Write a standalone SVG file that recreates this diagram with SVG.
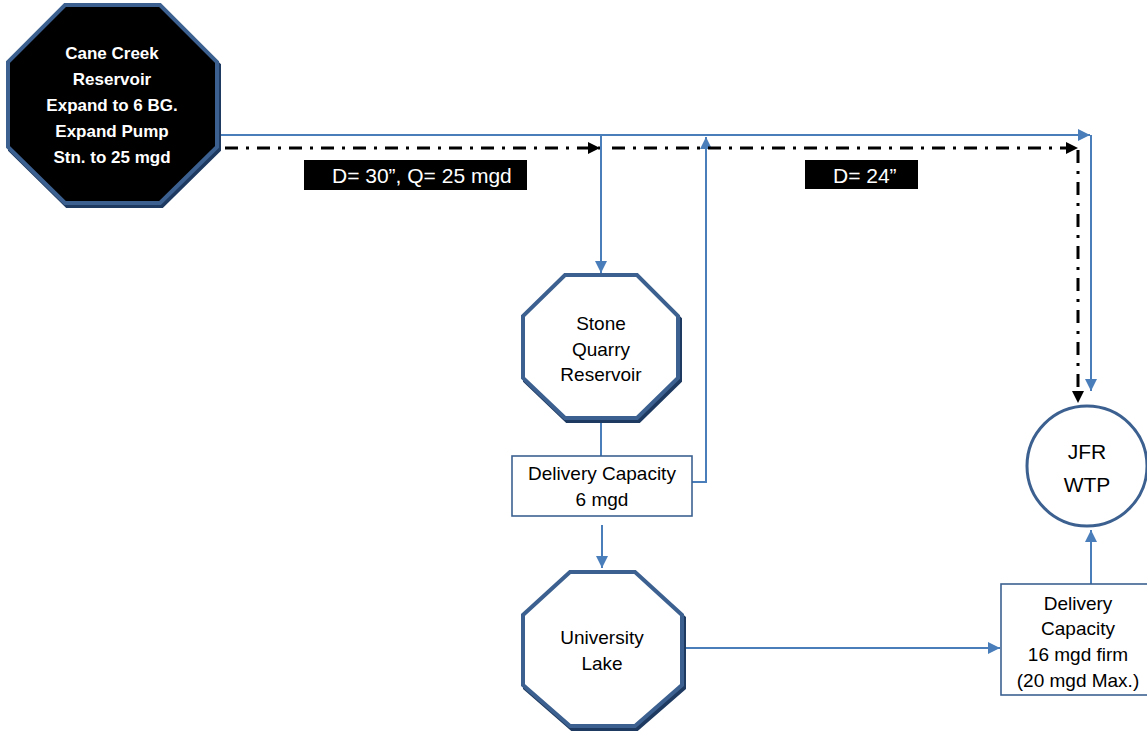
<svg xmlns="http://www.w3.org/2000/svg" width="1147" height="732" viewBox="0 0 1147 732">
<defs>
<style>
.oct{fill:#fff;stroke:#3c6190;stroke-width:4;stroke-linejoin:miter}
.octs{fill:#1f3a60;stroke:#1f3a60;stroke-width:4}
.blk{fill:#000}
.box{fill:#fff;stroke:#3c6190;stroke-width:1.6}
.t{font-family:"Liberation Sans",Arial,sans-serif;font-size:19px;fill:#000;text-anchor:middle}
.tb{font-family:"Liberation Sans",Arial,sans-serif;font-size:17px;font-weight:bold;fill:#fff;text-anchor:middle}
.tl{font-family:"Liberation Sans",Arial,sans-serif;font-size:21px;fill:#fff}
.bl{fill:none;stroke:#4a7ebb;stroke-width:2}
.dd{fill:none;stroke:#000;stroke-width:3;stroke-dasharray:13 8 3 8}
</style>
<marker id="ab" markerUnits="userSpaceOnUse" markerWidth="14" markerHeight="12" refX="12" refY="6" orient="auto">
<path d="M0,0 L12,6 L0,12 Z" fill="#4a7ebb"/>
</marker>
<marker id="ak" markerUnits="userSpaceOnUse" markerWidth="14" markerHeight="12" refX="12" refY="6" orient="auto">
<path d="M0,0 L12,6 L0,12 Z" fill="#000"/>
</marker>
</defs>
<rect width="1147" height="732" fill="#fff"/>

<g id="connectors">
<path class="bl" d="M203,135 H1090" marker-end="url(#ab)"/>
<path class="bl" d="M1091,135 V391" marker-end="url(#ab)"/>
<path class="bl" d="M601,135 V273" marker-end="url(#ab)"/>
<path class="bl" d="M601,420 V456"/>
<path class="bl" d="M692,482 H706 V137" marker-end="url(#ab)"/>
<path class="bl" d="M602,525 V568" marker-end="url(#ab)"/>
<path class="bl" d="M682,648 H1000" marker-end="url(#ab)"/>
<path class="bl" d="M1091,584 V530" marker-end="url(#ab)"/>
<path class="dd" d="M225,148 H600" marker-end="url(#ak)"/>
<path class="dd" d="M612,148 H1078" marker-end="url(#ak)"/>
<path class="dd" d="M1078,150 V403" marker-end="url(#ak)"/>
</g>

<g id="cane-creek">
<polygon class="octs" points="67,8 162,8 219,65 219,150 162,206 67,206 10,150 10,65"/>
<polygon class="oct" style="fill:#000" points="65,5 160,5 217,62 217,147 160,203 65,203 8,147 8,62"/>
<text class="tb" x="112" y="59">Cane Creek</text>
<text class="tb" x="112" y="85">Reservoir</text>
<text class="tb" x="112" y="111">Expand to 6 BG.</text>
<text class="tb" x="112" y="137">Expand Pump</text>
<text class="tb" x="112" y="163">Stn. to 25 mgd</text>
</g>

<g id="label-30">
<rect class="blk" x="304" y="160" width="223" height="30"/>
<text class="tl" x="332" y="183">D= 30”, Q= 25 mgd</text>
</g>

<g id="label-24">
<rect class="blk" x="805" y="160" width="113" height="29"/>
<text class="tl" x="833" y="183">D= 24”</text>
</g>

<g id="stone-quarry">
<polygon class="octs" points="567,278 639,278 680,319 680,381 639,421 567,421 525,381 525,319"/>
<polygon class="oct" points="565,275 637,275 678,316 678,378 637,418 565,418 523,378 523,316"/>
<text class="t" x="601" y="330">Stone</text>
<text class="t" x="601" y="356">Quarry</text>
<text class="t" x="601" y="381">Reservoir</text>
</g>

<g id="delivery-6">
<rect class="box" x="512" y="456" width="180" height="60"/>
<text class="t" x="602" y="480">Delivery Capacity</text>
<text class="t" x="602" y="506">6 mgd</text>
</g>

<g id="university-lake">
<polygon class="octs" points="572,575 637,575 684,618 684,688 637,729 572,729 525,688 525,618"/>
<polygon class="oct" points="570,572 635,572 682,615 682,685 635,726 570,726 523,685 523,615"/>
<text class="t" x="602" y="644">University</text>
<text class="t" x="602" y="670">Lake</text>
</g>

<g id="jfr-wtp">
<circle cx="1087" cy="466" r="60" fill="#fff" stroke="#3c6190" stroke-width="3"/>
<text class="t" style="font-size:21px" x="1087" y="459">JFR</text>
<text class="t" style="font-size:21px" x="1087" y="492">WTP</text>
</g>

<g id="delivery-16">
<rect class="box" x="1001" y="584" width="154" height="111"/>
<text class="t" x="1078" y="610">Delivery</text>
<text class="t" x="1078" y="635">Capacity</text>
<text class="t" x="1078" y="661">16 mgd firm</text>
<text class="t" x="1078" y="687">(20 mgd Max.)</text>
</g>
</svg>
